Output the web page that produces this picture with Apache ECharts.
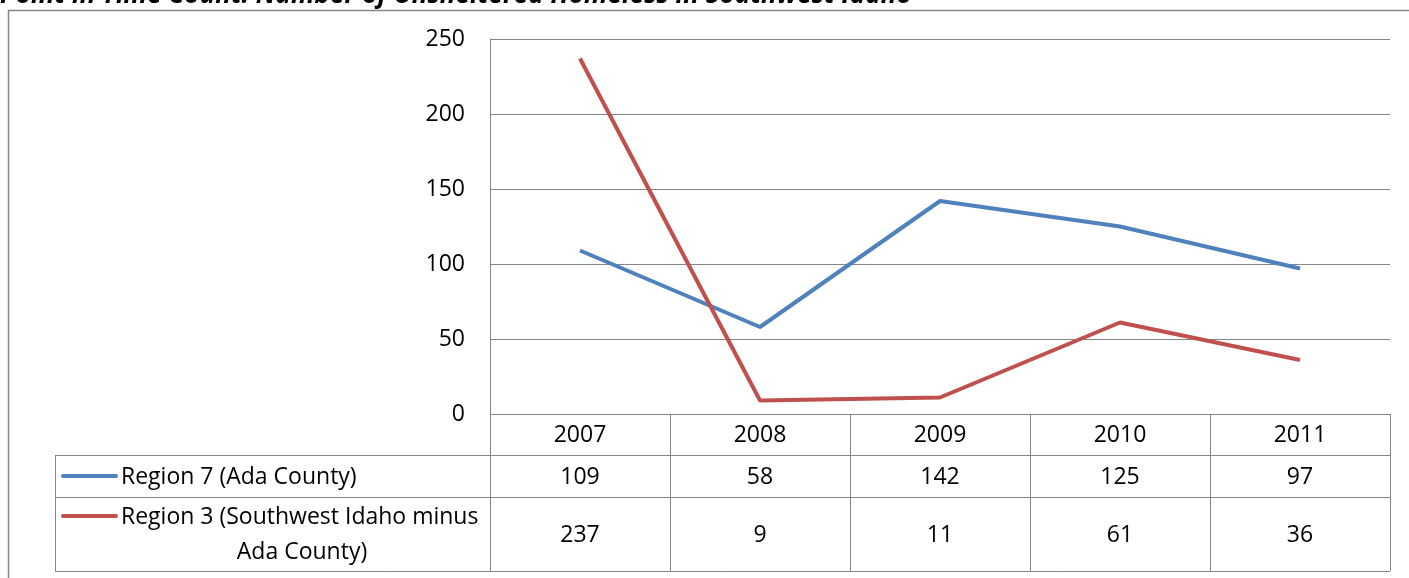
<!DOCTYPE html>
<html><head><meta charset="utf-8">
<script src="https://cdn.jsdelivr.net/npm/echarts@6/dist/echarts.min.js"></script>
<style>html,body{margin:0;padding:0;background:#fff}#c{width:1409px;height:578px}</style>
</head><body><div id="c"></div>
<script>
var title = 'Point in Time Count: Number of Unsheltered Homeless in Southwest Idaho';
var years = ['2007', '2008', '2009', '2010', '2011'];
var seriesNames = ['Region 7 (Ada County)', 'Region 3 (Southwest Idaho minus Ada County)'];
var legendLines = [['Region 7 (Ada County)'], ['Region 3 (Southwest Idaho minus', 'Ada County)']];
var region7 = [109, 58, 142, 125, 97];
var region3 = [237, 9, 11, 61, 36];
var yTicks = [0, 50, 100, 150, 200, 250];
var colors = ['#4F81BD', '#C0504D'];

var FONT = 'Open Sans';
var FS = 23;
var GRAY = '#868686';
var chart = echarts.init(document.getElementById('c'));
var rowOff = [0, 42, 100];
var option = {
  animation: false,
  grid: { left: 490, right: 19, top: 39, bottom: 164, containLabel: false },
  yAxis: {
    type: 'value', min: yTicks[0], max: yTicks[yTicks.length - 1], interval: 50,
    axisLine: { show: true, lineStyle: { color: GRAY, width: 1 } },
    axisTick: { show: false },
    splitLine: { lineStyle: { color: GRAY, width: 1 } },
    axisLabel: { color: '#000', fontFamily: FONT, fontSize: FS, margin: 25 }
  },
  xAxis: [
    { type: 'category', data: years, boundaryGap: true,
      axisLine: { lineStyle: { color: GRAY } }, axisTick: { show: false },
      axisLabel: { color: '#000', fontFamily: FONT, fontSize: FS, margin: 10, interval: 0 } },
    { type: 'category', data: region7.map(String), position: 'bottom', offset: rowOff[1],
      axisLine: { show: false }, axisTick: { show: false },
      axisLabel: { color: '#000', fontFamily: FONT, fontSize: FS, margin: 10, interval: 0 } },
    { type: 'category', data: region3.map(String), position: 'bottom', offset: rowOff[2],
      axisLine: { show: false }, axisTick: { show: false },
      axisLabel: { color: '#000', fontFamily: FONT, fontSize: FS, margin: 10, interval: 0 } }
  ],
  series: [
    { name: seriesNames[0], type: 'line', data: region7, showSymbol: false, symbol: 'none',
      lineStyle: { color: colors[0], width: 4 }, itemStyle: { color: colors[0] } },
    { name: seriesNames[1], type: 'line', data: region3, showSymbol: false, symbol: 'none',
      lineStyle: { color: colors[1], width: 4 }, itemStyle: { color: colors[1] } }
  ]
};
chart.setOption(option);

// table geometry from axes
var c0 = chart.convertToPixel({ xAxisIndex: 0 }, years[0]);
var c1 = chart.convertToPixel({ xAxisIndex: 0 }, years[1]);
var band = c1 - c0;
var left = c0 - band / 2;
var right = left + band * years.length;
var y0 = chart.convertToPixel({ yAxisIndex: 0 }, 0);
var rowYs = [y0, y0 + 41, y0 + 83, y0 + 157];
var tableLeft = 55;
var els = [];
var ls = { stroke: GRAY, lineWidth: 1 };
// outer frame
els.push({ type: 'rect', shape: { x: 8.5, y: 10.5, width: 1500, height: 700 }, style: { fill: 'none', stroke: GRAY, lineWidth: 1.5 }, silent: true });
// title (cut off at the top, as in the source)
els.push({ type: 'text', x: 0, y: 9, style: { text: title, fontFamily: FONT, fontWeight: 'bold', fontStyle: 'italic', fontSize: 26, fill: '#000', textVerticalAlign: 'bottom', textAlign: 'left' } });
// horizontal table lines
for (var i = 1; i < rowYs.length; i++) {
  els.push({ type: 'line', shape: { x1: tableLeft, y1: Math.round(rowYs[i]) + 0.5, x2: right, y2: Math.round(rowYs[i]) + 0.5 }, style: ls });
}
// vertical lines
els.push({ type: 'line', shape: { x1: tableLeft + 0.5, y1: rowYs[1], x2: tableLeft + 0.5, y2: rowYs[3] }, style: ls });
for (var k = 0; k <= years.length; k++) {
  var x = Math.round(left + k * band) + 0.5;
  els.push({ type: 'line', shape: { x1: x, y1: rowYs[0], x2: x, y2: rowYs[3] }, style: ls });
}
// legend column
var legendCY = [(rowYs[1] + rowYs[2]) / 2, (rowYs[2] + rowYs[3]) / 2];
for (var s = 0; s < 2; s++) {
  var lines = legendLines[s];
  var cy = legendCY[s];
  var firstY = lines.length === 1 ? cy : cy - 18;
  els.push({ type: 'line', shape: { x1: 63, y1: firstY, x2: 116, y2: firstY }, style: { stroke: colors[s], lineWidth: 4, lineCap: 'round' } });
  els.push({ type: 'text', x: 121, y: firstY + 1.5, style: { text: lines[0], fontFamily: FONT, fontSize: FS, fill: '#000', textVerticalAlign: 'middle', textAlign: 'left' } });
  if (lines.length > 1) {
    els.push({ type: 'text', x: 302, y: cy + 18.5, style: { text: lines[1], fontFamily: FONT, fontSize: FS, fill: '#000', textVerticalAlign: 'middle', textAlign: 'center' } });
  }
}
chart.setOption({ graphic: els });
</script>
</body></html>
